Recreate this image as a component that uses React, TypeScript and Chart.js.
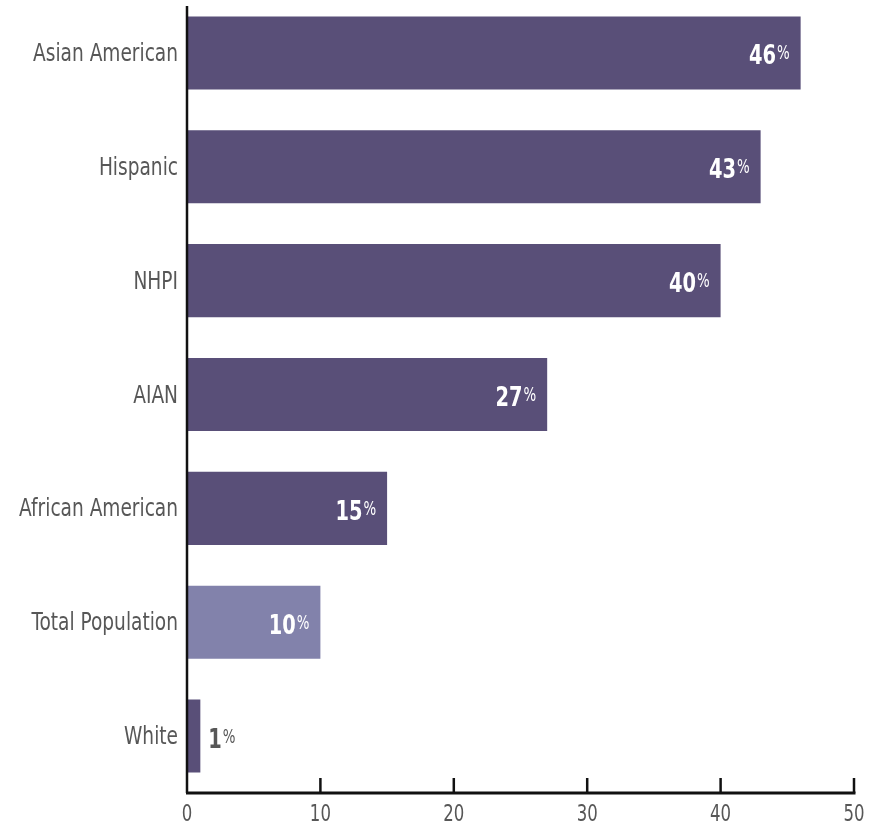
import React, { useEffect, useRef } from "react";
import { Chart, registerables } from "chart.js";
Chart.register(...registerables);

const categories = ["Asian American", "Hispanic", "NHPI", "AIAN", "African American", "Total Population", "White"];
const values = [46, 43, 40, 27, 15, 10, 1];
const barColors = ["#594f78", "#594f78", "#594f78", "#594f78", "#594f78", "#8282ab", "#594f78"];
const xTickValues = [0, 10, 20, 30, 40, 50];
const xTickLabels = ["0", "10", "20", "30", "40", "50"];

const FAMILY = '"DejaVu Sans Condensed", "DejaVu Sans", sans-serif';
const TEXT_GRAY = "#575757";
const SHIFT = 4; // canvas is shifted up by this many pixels

function drawText(ctx: CanvasRenderingContext2D, text: string, x: number, y: number, align: CanvasTextAlign, sx: number) {
  ctx.save();
  ctx.translate(x, y);
  ctx.scale(sx, 1);
  ctx.textAlign = align;
  ctx.fillText(text, 0, 0);
  ctx.restore();
}

const axesPlugin = {
  id: "customAxes",
  afterDatasetsDraw(chart: any) {
    const { ctx, chartArea } = chart;
    const xs = chart.scales.x;
    const ys = chart.scales.y;
    const { left, bottom } = chartArea;
    ctx.save();
    ctx.strokeStyle = "#111111";
    ctx.lineWidth = 2.5;
    ctx.beginPath();
    ctx.moveTo(left, 6 + SHIFT);
    ctx.lineTo(left, bottom);
    ctx.stroke();
    ctx.lineWidth = 3;
    ctx.beginPath();
    ctx.moveTo(left - 1, bottom);
    ctx.lineTo(xs.getPixelForValue(xTickValues[xTickValues.length - 1]) + 1.5, bottom);
    ctx.stroke();
    ctx.lineWidth = 2.5;
    xTickValues.forEach((v) => {
      if (v === 0) return;
      const px = xs.getPixelForValue(v);
      ctx.beginPath();
      ctx.moveTo(px, bottom - 15);
      ctx.lineTo(px, bottom);
      ctx.stroke();
    });
    // x tick labels
    ctx.fillStyle = TEXT_GRAY;
    ctx.textBaseline = "alphabetic";
    ctx.font = `23px ${FAMILY}`;
    xTickValues.forEach((v, i) => {
      drawText(ctx, xTickLabels[i], xs.getPixelForValue(v), bottom + 28, "center", 0.8);
    });
    // y category labels
    ctx.font = `24px ${FAMILY}`;
    categories.forEach((c, i) => {
      const py = ys.getPixelForValue(i);
      drawText(ctx, c, left - 9, py + 8, "right", 0.86);
    });
    ctx.restore();
  },
};

const labelPlugin = {
  id: "valueLabels",
  afterDatasetsDraw(chart: any) {
    const { ctx } = chart;
    const meta = chart.getDatasetMeta(0);
    const sBig = 0.8;
    const sSmall = 0.78;
    ctx.save();
    ctx.textBaseline = "alphabetic";
    meta.data.forEach((bar: any, i: number) => {
      const num = String(values[i]);
      const bigFont = `bold 27px ${FAMILY}`;
      const smallFont = `19px ${FAMILY}`;
      ctx.font = bigFont;
      const wNum = ctx.measureText(num).width * sBig;
      ctx.font = smallFont;
      const wPct = ctx.measureText("%").width * sSmall;
      const gap = 1;
      const total = wNum + gap + wPct;
      const inside = values[i] >= 5;
      const startX = inside ? bar.x - 11 - total : bar.x + 8;
      ctx.fillStyle = inside ? "#ffffff" : TEXT_GRAY;
      ctx.font = bigFont;
      drawText(ctx, num, startX, bar.y + 11.5, "left", sBig);
      ctx.font = smallFont;
      drawText(ctx, "%", startX + wNum + gap, bar.y + 6.5, "left", sSmall);
    });
    ctx.restore();
  },
};

export default function App() {
  const ref = useRef<HTMLCanvasElement | null>(null);
  useEffect(() => {
    if (!ref.current) return;
    const chart = new Chart(ref.current, {
      type: "bar",
      data: {
        labels: categories,
        datasets: [
          {
            data: values,
            backgroundColor: barColors,
            borderWidth: 0,
            categoryPercentage: 1,
            barPercentage: 0.642,
          },
        ],
      },
      options: {
        indexAxis: "y",
        animation: false,
        responsive: false,
        layout: { padding: { left: 0, right: 27, top: 0, bottom: 0 } },
        plugins: { legend: { display: false }, tooltip: { enabled: false } },
        scales: {
          x: {
            min: 0,
            max: 50,
            afterFit: (s: any) => {
              s.height = 32;
              s.paddingLeft = 0;
              s.paddingRight = 0;
            },
            grid: { display: false, drawTicks: false },
            border: { display: false },
            ticks: { display: false, stepSize: 10 },
          },
          y: {
            afterFit: (s: any) => {
              s.width = 187;
              s.paddingTop = 0;
              s.paddingBottom = 0;
            },
            grid: { display: false, drawTicks: false },
            border: { display: false },
            ticks: { display: false },
          },
        },
      } as any,
      plugins: [axesPlugin, labelPlugin],
    });
    return () => chart.destroy();
  }, []);
  return (
    <div style={{ position: "absolute", left: 0, top: -SHIFT, width: 881, height: 825 + SHIFT, background: "#ffffff" }}>
      <canvas ref={ref} width={881} height={825 + SHIFT} style={{ display: "block" }} />
    </div>
  );
}
